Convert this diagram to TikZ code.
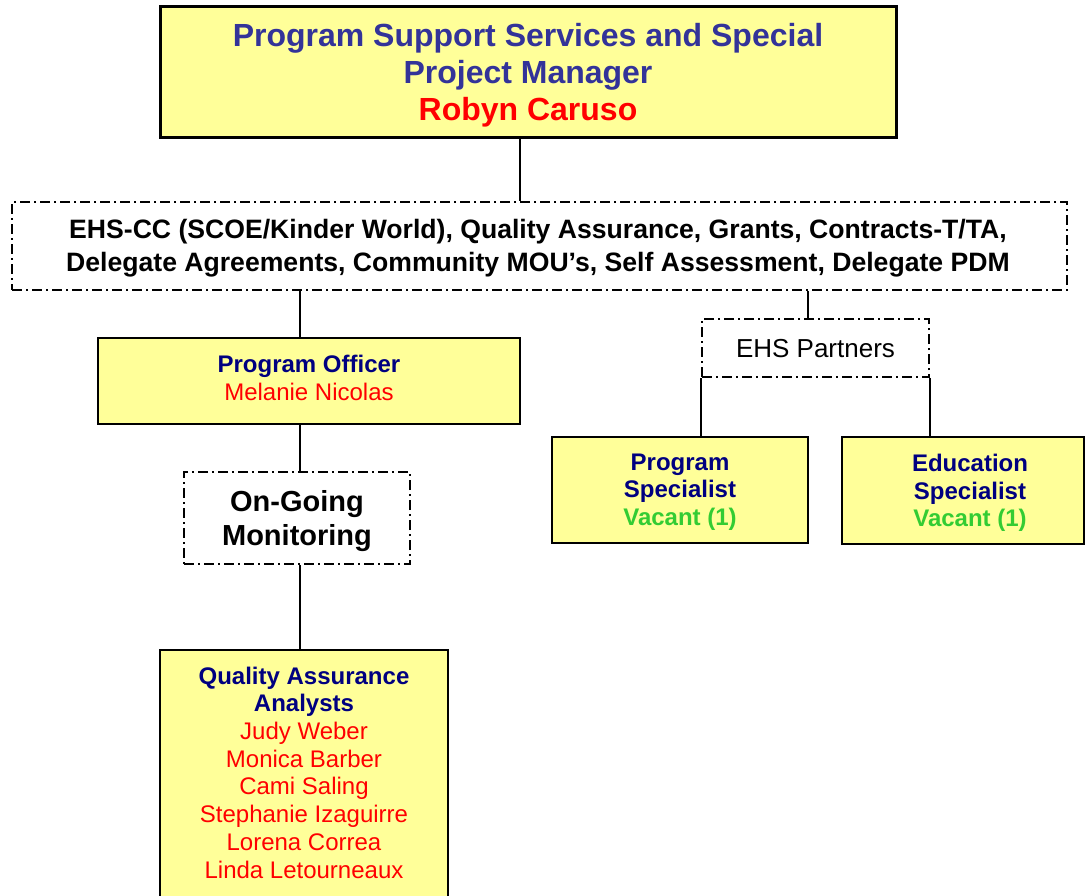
\documentclass[tikz,border=0pt]{standalone}
\usepackage{fontspec}
\setmainfont{Liberation Sans}
\definecolor{boxfill}{HTML}{FFFF99}
\definecolor{titleblue}{HTML}{333399}
\definecolor{navy}{HTML}{000080}
\definecolor{pgreen}{HTML}{33CC33}
\begin{document}
\begin{tikzpicture}[x=1pt,y=-1pt,
  ybox/.style={draw=black, line width=2pt, fill=boxfill, inner sep=0pt},
  dbox/.style={draw=black, line width=1.8pt, dash pattern=on 10pt off 4pt on 2pt off 4pt, inner sep=0pt},
  txt/.style={align=center, inner sep=0pt},
  conn/.style={line width=1.8pt}]
\useasboundingbox (0,0) rectangle (1085,895);
\clip (0,0) rectangle (1085,895);
% boxes
\node[ybox, line width=3pt, minimum width=736pt, minimum height=131pt] (mgr) at (528,71.5) {};
\node[txt, font=\bfseries\fontsize{32}{37}\selectfont, text=titleblue] (mgrtxt) at (528,75)
  {Program Support Services and Special\\Project Manager\\\textcolor{red}{Robyn Caruso}};
\node[dbox, minimum width=1055pt, minimum height=88pt] (dash) at (539.5,246) {};
\node[txt, font=\bfseries\fontsize{26.6}{33}\selectfont] (dashtxt) at (538,248)
  {EHS-CC (SCOE/Kinder World), Quality Assurance, Grants, Contracts-T/TA,\\Delegate Agreements, Community MOU’s, Self Assessment, Delegate PDM};
\node[ybox, minimum width=422pt, minimum height=86pt] (po) at (309,381) {};
\node[txt, font=\fontsize{24}{28}\selectfont] (potxt) at (309,378)
  {\textcolor{navy}{\bfseries Program Officer}\\\textcolor{red}{Melanie Nicolas}};
\node[dbox, minimum width=226pt, minimum height=92pt] (mon) at (297,518) {};
\node[txt, font=\bfseries\fontsize{29}{34}\selectfont] (montxt) at (297,521) {On-Going\\Monitoring};
\node[ybox, minimum width=288pt, minimum height=260pt] (qa) at (304,780) {};
\node[txt, font=\fontsize{24}{27.7}\selectfont] (qatxt) at (304,772.5)
  {\textcolor{navy}{\bfseries Quality Assurance}\\\textcolor{navy}{\bfseries Analysts}\\
   \textcolor{red}{Judy Weber}\\\textcolor{red}{Monica Barber}\\\textcolor{red}{Cami Saling}\\
   \textcolor{red}{Stephanie Izaguirre}\\\textcolor{red}{Lorena Correa}\\\textcolor{red}{Linda Letourneaux}};
\node[dbox, minimum width=227pt, minimum height=58pt] (ehs) at (815.5,348) {};
\node[txt, font=\fontsize{26}{30}\selectfont] (ehstxt) at (815.5,349) {EHS Partners};
\node[ybox, minimum width=256pt, minimum height=106pt] (ps) at (680,490) {};
\node[txt, font=\bfseries\fontsize{24}{27.5}\selectfont] (pstxt) at (680,492)
  {\textcolor{navy}{Program}\\\textcolor{navy}{Specialist}\\\textcolor{pgreen}{Vacant (1)}};
\node[ybox, minimum width=242pt, minimum height=107pt] (es) at (963,490.5) {};
\node[txt, font=\bfseries\fontsize{24}{27.5}\selectfont] (estxt) at (970,493)
  {\textcolor{navy}{Education}\\\textcolor{navy}{Specialist}\\\textcolor{pgreen}{Vacant (1)}};
% connectors
\coordinate (lx) at (300,0);
\coordinate (rx) at (808,0);
\draw[conn] ([xshift=-8pt]mgr.south) -- ([xshift=-8pt]mgr.south |- dash.north);
\draw[conn] (lx |- dash.south) -- (lx |- po.north);
\draw[conn] (lx |- po.south) -- (lx |- mon.north);
\draw[conn] (lx |- mon.south) -- (lx |- qa.north);
\draw[conn] (rx |- dash.south) -- (rx |- ehs.north);
\draw[conn] (ehs.south west) -- (ehs.south west |- ps.north);
\draw[conn] (ehs.south east) -- (ehs.south east |- es.north);
\end{tikzpicture}
\end{document}
